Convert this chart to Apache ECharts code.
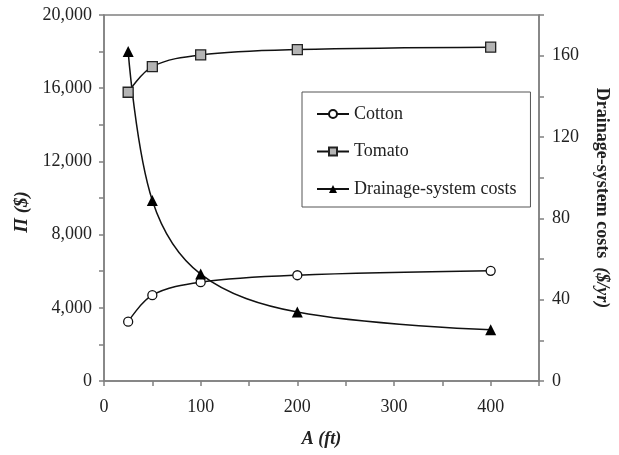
<!DOCTYPE html>
<html>
<head>
<meta charset="utf-8">
<script src="https://cdn.jsdelivr.net/npm/echarts@6/dist/echarts.min.js"></script>
<style>html,body{margin:0;padding:0;background:#fff;}#c{width:619px;height:455px;}</style>
</head>
<body>
<div id="c"></div>
<script>
var spacing = [25, 50, 100, 200, 400];
var cotton = [3240, 4690, 5400, 5780, 6020];
var tomato = [15780, 17180, 17820, 18110, 18240];
var drainage = [162, 88.8, 52.6, 33.9, 25.2];
var xLabels = [0, 100, 200, 300, 400];
var leftLabels = [0, 4000, 8000, 12000, 16000, 20000];
var rightLabels = [0, 40, 80, 120, 160];

function pairs(xs, ys) { return xs.map(function (x, i) { return [x, ys[i]]; }); }
function fmtThousands(v) { return String(v).replace(/\B(?=(\d{3})+(?!\d))/g, ','); }

var FONT = 'Liberation Serif';
var axisColor = '#808080';
var textColor = '#222';

var chart = echarts.init(document.getElementById('c'), null, { renderer: 'canvas' });
chart.setOption({
  backgroundColor: '#fff',
  animation: false,
  grid: { left: 104, right: 70, top: 15, bottom: 74, show: true, borderColor: axisColor, borderWidth: 1.5, backgroundColor: 'transparent' },
  legend: {
    orient: 'vertical',
    left: 302, top: 92,
    padding: [13, 14, 9, 14],
    itemGap: 19.5,
    itemWidth: 32, itemHeight: 10,
    backgroundColor: '#fff',
    borderColor: '#555', borderWidth: 1,
    textStyle: { fontFamily: FONT, fontSize: 18, color: textColor },
    data: ['Cotton', 'Tomato', 'Drainage-system costs']
  },
  xAxis: {
    type: 'value', min: 0, max: 450, interval: 50,
    name: 'A (ft)', nameLocation: 'middle', nameGap: 49,
    nameTextStyle: { fontFamily: FONT, fontSize: 18, fontWeight: 'bold', fontStyle: 'italic', color: textColor },
    axisLine: { show: true, lineStyle: { color: axisColor, width: 1.5 } },
    axisTick: { show: true, inside: false, length: 5, lineStyle: { color: axisColor, width: 1.5 } },
    axisLabel: {
      margin: 17, fontFamily: FONT, fontSize: 18, color: textColor,
      formatter: function (v) { return xLabels.indexOf(v) >= 0 ? String(v) : ''; }
    },
    splitLine: { show: false }
  },
  yAxis: [{
    type: 'value', min: 0, max: 20000, interval: 2000, position: 'left',
    axisLine: { show: true, lineStyle: { color: axisColor, width: 1.5 } },
    axisTick: { show: true, length: 5, lineStyle: { color: axisColor, width: 1.5 } },
    axisLabel: {
      margin: 12, fontFamily: FONT, fontSize: 18, color: textColor,
      formatter: function (v) { return leftLabels.indexOf(v) >= 0 ? fmtThousands(v) : ''; }
    },
    splitLine: { show: false }
  }, {
    type: 'value', min: 0, max: 180, interval: 20, position: 'right',
    name: '{b|Drainage-system costs  }{bi|($/yr)}', nameLocation: 'middle', nameGap: 54, nameRotate: -90,
    nameTextStyle: {
      color: textColor,
      rich: {
        b: { fontFamily: FONT, fontSize: 18, fontWeight: 'bold', color: textColor },
        bi: { fontFamily: FONT, fontSize: 18, fontWeight: 'bold', fontStyle: 'italic', color: textColor }
      }
    },
    axisLine: { show: true, lineStyle: { color: axisColor, width: 1.5 } },
    axisTick: { show: true, length: 5, lineStyle: { color: axisColor, width: 1.5 } },
    axisLabel: {
      margin: 13, fontFamily: FONT, fontSize: 18, color: textColor,
      formatter: function (v) { return rightLabels.indexOf(v) >= 0 ? String(v) : ''; }
    },
    splitLine: { show: false }
  }],
  graphic: [{
    type: 'text', x: 22, y: 212, rotation: Math.PI / 2,
    style: { text: 'Π ($)', fontFamily: FONT, fontSize: 19, fontWeight: 'bold', fontStyle: 'italic', fill: textColor, textAlign: 'center', textVerticalAlign: 'middle' }
  }],
  series: [{
    name: 'Cotton', type: 'line', yAxisIndex: 0, data: pairs(spacing, cotton), smooth: 0.35,
    symbol: 'circle', symbolSize: 9,
    lineStyle: { color: '#111', width: 1.5 },
    itemStyle: { color: '#fff', borderColor: '#111', borderWidth: 1.3 }
  }, {
    name: 'Tomato', type: 'line', yAxisIndex: 0, data: pairs(spacing, tomato), smooth: 0.35,
    symbol: 'rect', symbolSize: 10,
    lineStyle: { color: '#111', width: 1.5 },
    itemStyle: { color: '#b4b4b4', borderColor: '#222', borderWidth: 1.3 }
  }, {
    name: 'Drainage-system costs', type: 'line', yAxisIndex: 1, data: pairs(spacing, drainage), smooth: 0.35,
    symbol: 'triangle', symbolSize: 11,
    lineStyle: { color: '#111', width: 1.5 },
    itemStyle: { color: '#000', borderColor: '#000', borderWidth: 0 }
  }]
});
</script>
</body>
</html>
